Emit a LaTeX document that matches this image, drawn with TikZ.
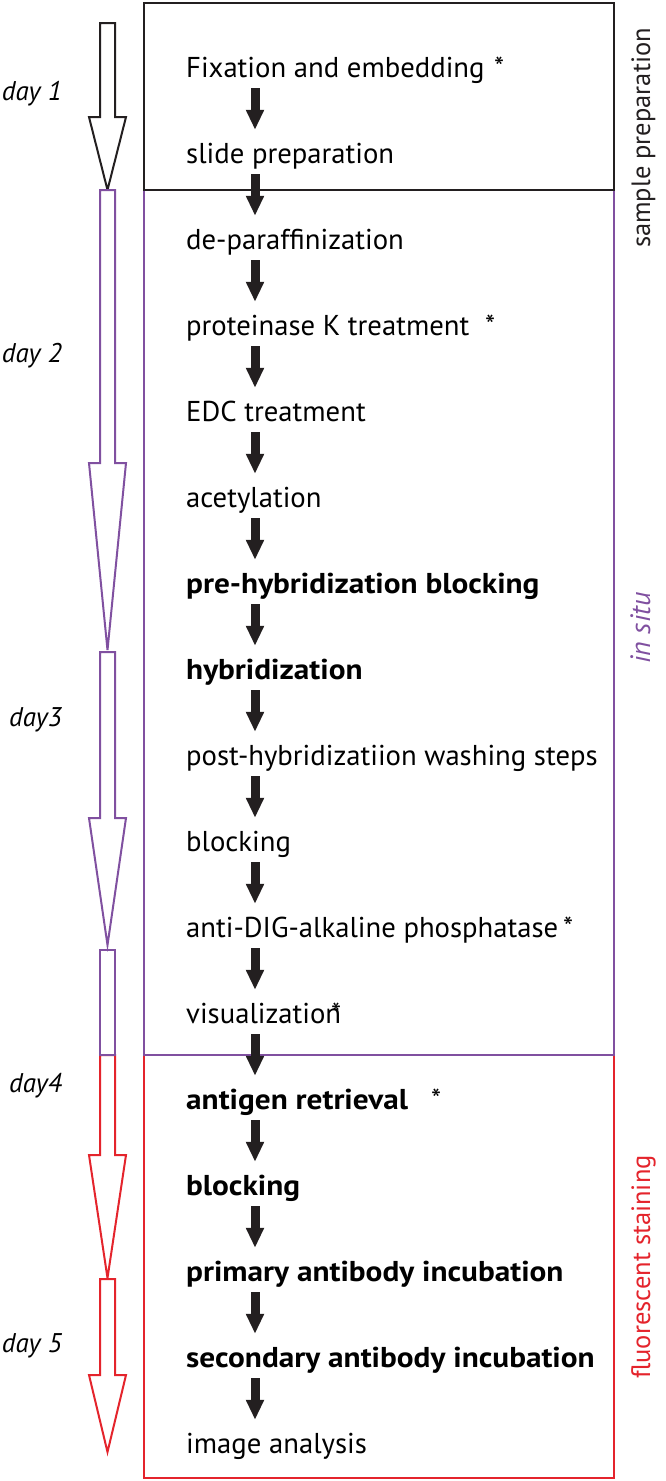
\documentclass[tikz,border=0pt]{standalone}
\usepackage{fontspec}
\setmainfont{PT Sans}[BoldFeatures={FakeStretch=1.09}]
\usetikzlibrary{calc, arrows.meta, positioning}
\definecolor{prepblack}{RGB}{35,31,32}
\definecolor{situpurple}{RGB}{128,80,160}
\definecolor{stainred}{RGB}{228,36,44}

% hollow day arrow: colour, top, head start, tip
\newcommand{\dayarrow}[4]{%
  \draw[#1, line width=2pt, line join=miter, fill=white]
    (100,#2) -- (100,#3) -- (89,#3) -- (107.5,#4) -- (126,#3) -- (115,#3) -- (115,#2) -- cycle;}

\tikzset{
  stepbox/.style={anchor=base west, inner sep=0pt, text height=33pt, text depth=11pt,
    font=\fontsize{28.7}{32}\selectfont},
  boldbox/.style={stepbox, font=\fontsize{28.7}{32}\selectfont\bfseries},
  markbox/.style={anchor=base west, inner sep=0pt, font=\fontsize{28.7}{32}\selectfont},
  daylabel/.style={anchor=base east, inner sep=0pt, font=\fontsize{27}{30}\selectfont\itshape},
  sidelabel/.style={rotate=90, anchor=base, inner sep=0pt, font=\fontsize{26.5}{30}\selectfont},
  flowarrow/.style={prepblack, line width=9pt, -{Triangle[length=20pt, width=17pt]}},
  frame/.style={line width=2pt},
}

\begin{document}
\begin{tikzpicture}[x=1pt, y=-1pt]
  \useasboundingbox (0,0) rectangle (666,1481);

  % frames
  \draw[frame, stainred] (144,1055) rectangle (614,1478);
  \draw[frame, situpurple] (144,190) rectangle (614,1055);
  \draw[frame, prepblack] (144,3) rectangle (614,190);

  % time line
  \dayarrow{prepblack}{23}{117}{190}
  \dayarrow{situpurple}{190}{463}{650}
  \dayarrow{situpurple}{652}{818}{945}
  \dayarrow{stainred}{1055}{1155}{1278}
  \dayarrow{stainred}{1279}{1375}{1452}
  \draw[situpurple, line width=2pt] (100,950) rectangle (115,1055);

  \node[daylabel] (d1) at (62,100) {day 1};
  \node[daylabel] (d2) at (62,362) {day 2};
  \node[daylabel] (d3) at (62,726) {day3};
  \node[daylabel] (d4) at (62,1092) {day4};
  \node[daylabel] (d5) at (62,1352) {day 5};

  % steps
  \coordinate (ax) at (255,0);
  \node[stepbox] (s1) at (186,77) {Fixation and embedding};
  \node[stepbox] (s2) at (186,163) {slide preparation};
  \node[stepbox] (s3) at (186,249) {de-paraffinization};
  \node[stepbox] (s4) at (186,335) {proteinase K treatment};
  \node[stepbox] (s5) at (186,421) {EDC treatment};
  \node[stepbox] (s6) at (186,507) {acetylation};
  \node[boldbox] (s7) at (186,593) {pre-hybridization blocking};
  \node[boldbox] (s8) at (186,679) {hybridization};
  \node[stepbox] (s9) at (186,765) {post-hybridizatiion washing steps};
  \node[stepbox] (s10) at (186,851) {blocking};
  \node[stepbox] (s11) at (186,937) {anti-DIG-alkaline phosphatase};
  \node[stepbox] (s12) at (186,1023) {visualization};
  \node[boldbox] (s13) at (186,1109) {antigen retrieval};
  \node[boldbox] (s14) at (186,1195) {blocking};
  \node[boldbox] (s15) at (186,1281) {primary antibody incubation};
  \node[boldbox] (s16) at (186,1367) {secondary antibody incubation};
  \node[stepbox] (s17) at (186,1453) {image analysis};

  % asterisks
  \node[markbox] (m1) at (494,77) {*};
  \node[markbox] (m4) at (485,335) {*};
  \node[markbox] (m11) at (563,937) {*};
  \node[markbox] (m12) at (331,1023) {*};
  \node[markbox] (m13) at (431,1109) {*};

  \foreach \a [evaluate=\a as \b using int(\a+1)] in {1,...,16}
    \draw[flowarrow] (s\a.south -| ax) -- (s\b.north -| ax);

  % phases
  \node[sidelabel, prepblack] (lprep) at (650,138) {sample preparation};
  \node[sidelabel, situpurple, font=\fontsize{28}{30}\selectfont\itshape] (lsitu) at (650,628) {in situ};
  \node[sidelabel, stainred] (lstain) at (650,1267) {fluorescent staining};
\end{tikzpicture}
\end{document}
